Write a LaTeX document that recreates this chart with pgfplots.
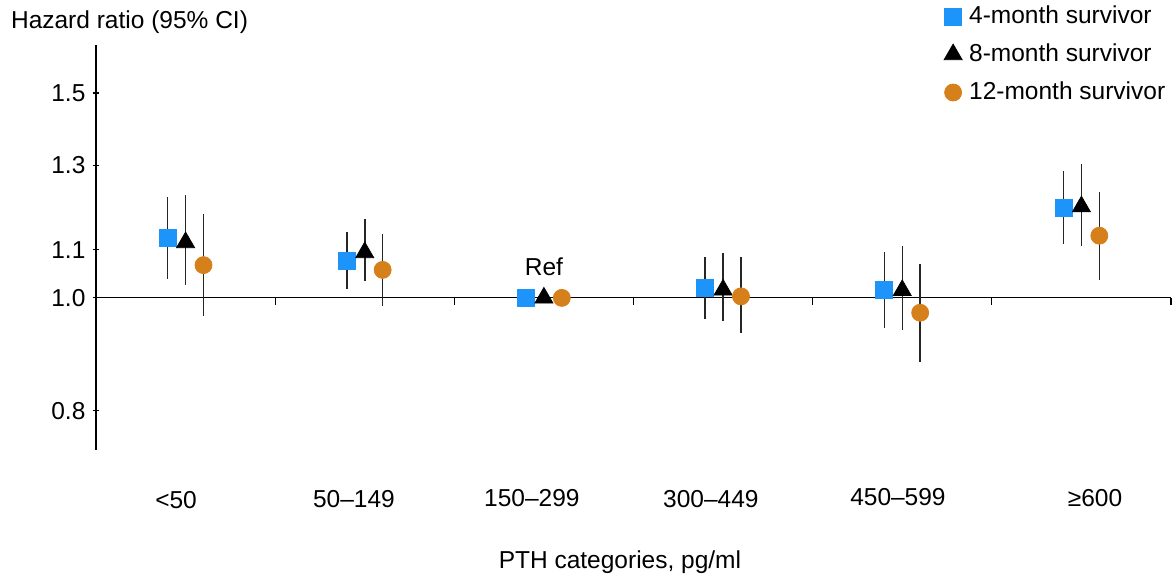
\documentclass[border=0pt]{standalone}
\usepackage{fontspec}
\setmainfont{Liberation Sans}
\usepackage{pgfplots}
\usepackage{pgfplotstable}
\pgfplotsset{compat=1.18}

\definecolor{sqblue}{RGB}{28,148,250}
\definecolor{dotorange}{RGB}{214,128,28}

% x = category index (0 = <50 ... 5 = >=600), y = HR, lo/hi = 95% CI
\pgfplotstableread{
x    y     lo    hi
-0.1 1.125 1.038 1.220
0.9  1.077 1.018 1.140
1.9  1.000 1.000 1.000
2.9  1.019 0.959 1.084
3.9  1.016 0.942 1.095
4.9  1.196 1.113 1.285
}\fourmonth
\pgfplotstableread{
x    y     lo    hi
0.0  1.116 1.026 1.226
1.0  1.094 1.033 1.169
2.0  1.000 1.000 1.000
3.0  1.016 0.955 1.093
4.0  1.015 0.939 1.109
5.0  1.198 1.108 1.304
}\eightmonth
\pgfplotstableread{
x    y     lo    hi
0.1  1.067 0.964 1.180
1.1  1.057 0.985 1.134
2.1  1.000 1.000 1.000
3.1  1.003 0.932 1.084
4.1  0.971 0.881 1.069
5.1  1.131 1.036 1.233
}\twelvemonth

\begin{document}
\begin{tikzpicture}[font=\fontsize{12.25}{14}\selectfont]
\begin{axis}[
    scale only axis,
    width=537.5pt, height=202.5pt,
    ymode=log, ymin=0.74, ymax=1.65,
    xmin=-0.5, xmax=5.5,
    axis y line=left, axis x line=middle,
    axis line style={-, line width=0.6pt},
    hide obscured x ticks=false, hide obscured y ticks=false,
    tick align=center,
    major tick length=3.5pt,
    tick style={black, line width=0.6pt},
    x tick style={yshift=-1.75pt},
    xtick={-0.5,0.5,...,5.5}, xticklabels={},
    ytick={0.8,1.0,1.1,1.3,1.5},
    yticklabels={0.8,1.0,1.1,1.3,1.5},
    yticklabel style={xshift=0pt},
    clip=false,
    ylabel={Hazard ratio (95\% CI)},
    every axis y label/.style={at={(rel axis cs:0,1)}, anchor=west, xshift=-46pt, yshift=11.5pt},
    xlabel={PTH categories, pg/ml},
    every axis x label/.style={at={(rel axis cs:0.4874,0)}, anchor=center, yshift=-56pt},
    error bars/y dir=both, error bars/y explicit,
    error bars/error mark=none,
    error bars/error bar style={black!85, line width=0.75pt},
    legend style={at={(rel axis cs:0.783,1.114)}, anchor=north west, draw=none, fill=none,
                  row sep=5.6pt, nodes={inner sep=1.5pt}},
    legend cell align=left,
    legend image code/.code={\draw[#1] plot coordinates {(0cm,0cm)};
                             \path[draw=none, fill=none] (0pt,0pt) -- (6.5pt,0pt);},
]
\addplot[only marks, mark=square*, mark size=4.25pt, color=sqblue]
    table[x=x, y=y, y error plus expr=\thisrow{hi}-\thisrow{y}, y error minus expr=\thisrow{y}-\thisrow{lo}] {\fourmonth};
\addlegendentry{4-month survivor}
\addplot[only marks, mark=triangle*, mark size=5.2pt, color=black]
    table[x=x, y=y, y error plus expr=\thisrow{hi}-\thisrow{y}, y error minus expr=\thisrow{y}-\thisrow{lo}] {\eightmonth};
\addlegendentry{8-month survivor}
\addplot[only marks, mark=*, mark size=4.25pt, color=dotorange]
    table[x=x, y=y, y error plus expr=\thisrow{hi}-\thisrow{y}, y error minus expr=\thisrow{y}-\thisrow{lo}] {\twelvemonth};
\addlegendentry{12-month survivor}

\node at (axis cs:2,1) [yshift=15.5pt] {Ref};
\node at (axis cs:-0.053,0.74) [yshift=-25pt] {<50};
\node at (axis cs:0.94,0.74) [yshift=-24.5pt] {50–149};
\node at (axis cs:1.933,0.74) [yshift=-24pt] {150–299};
\node at (axis cs:2.932,0.74) [yshift=-24.5pt] {300–449};
\node at (axis cs:3.976,0.74) [yshift=-23.5pt] {450–599};
\node at (axis cs:5.076,0.74) [yshift=-24pt] {≥600};
\coordinate (bl) at (rel axis cs:0,0);
\end{axis}
\pgfresetboundingbox
\path[use as bounding box] ([shift={(-48pt,-63.5pt)}]bl) rectangle ([shift={(539pt,225pt)}]bl);
\end{tikzpicture}
\end{document}
